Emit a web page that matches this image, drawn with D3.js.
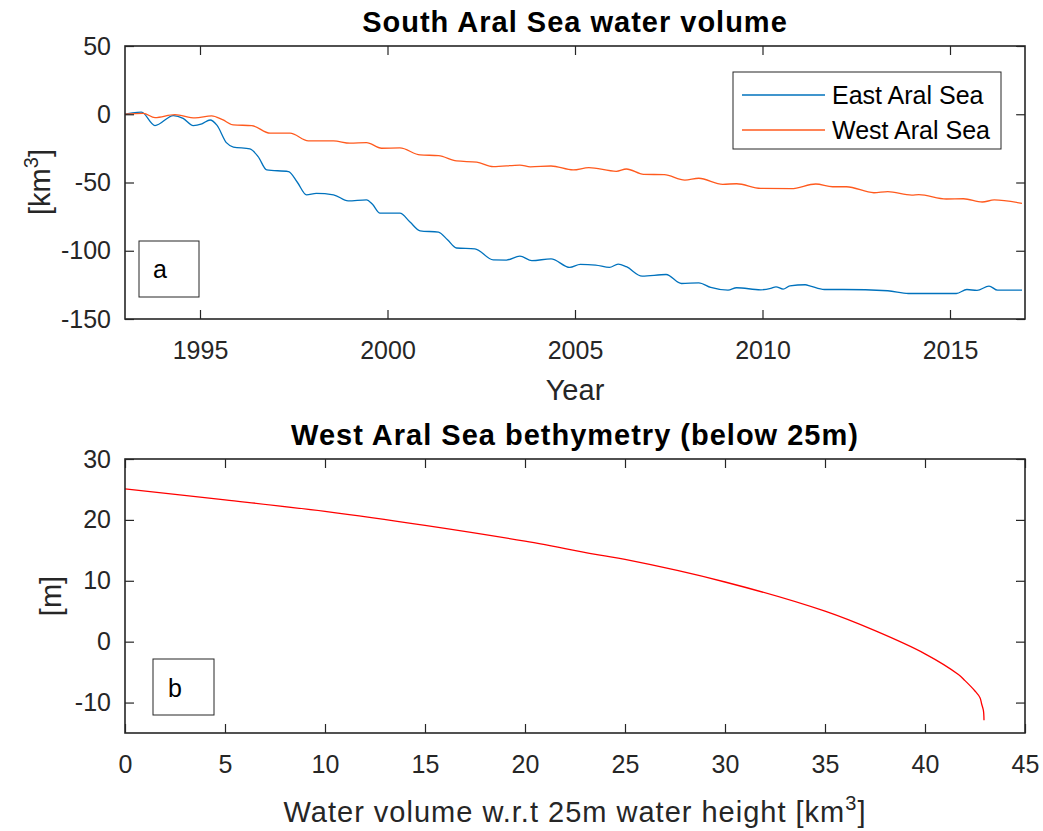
<!DOCTYPE html>
<html>
<head>
<meta charset="utf-8">
<script src="https://cdn.jsdelivr.net/npm/d3@7"></script>
<style>
  body { margin: 0; background: #fff; }
  text { font-family: "Liberation Sans", Arial, Helvetica, sans-serif; }
</style>
</head>
<body>
<script>
// panel a: water volume change [km3]
var eastYear = [1993.0,1993.2,1993.44,1993.8,1994.29,1994.55,1994.82,1995.05,1995.27,1995.45,1995.71,1995.89,
                1996.33,1996.55,1996.78,1997.36,1997.6,1997.84,1998.1,1998.56,1998.95,1999.44,1999.6,1999.8,
                2000.33,2000.6,2000.87,2001.36,2001.6,2001.84,2002.33,2002.82,2003.17,2003.53,2003.85,2004.36,
                2004.86,2005.14,2005.55,2005.92,2006.15,2006.37,2006.79,2007.43,2007.84,2008.3,2008.62,2009.08,
                2009.31,2009.95,2010.22,2010.36,2010.55,2010.73,2011.14,2011.28,2011.65,2012.15,2013.34,2013.89,
                2015.17,2015.45,2015.72,2016.04,2016.27,2016.92];
var eastVol  = [0,1,1.5,-8.3,-1,-3,-8.3,-7,-4.2,-8,-21,-24,
                -25.4,-31,-40.8,-42,-50,-59,-58,-59,-63.5,-62.7,-66,-72.5,
                -72.5,-79,-85.4,-86.4,-92,-98,-98.6,-106.7,-106.8,-103.9,-107.3,-105.9,
                -112.2,-110,-110.5,-112.2,-109.8,-111.7,-118.6,-117.4,-124,-123.5,-126.9,-128.9,
                -127.1,-128.6,-127.6,-126.4,-128.1,-125.7,-124.9,-125.9,-128.4,-128.4,-129.3,-131.3,
                -131.3,-128.4,-129.1,-125.9,-128.9,-128.9];

var westYear = [1993.0,1993.49,1993.8,1994.33,1994.87,1995.31,1995.6,1995.89,1996.38,1996.87,1997.4,1997.89,
                1998.56,1999.0,1999.44,1999.84,2000.33,2000.87,2001.36,2001.84,2002.38,2002.82,2003.53,2003.81,
                2004.36,2004.95,2005.37,2006.1,2006.37,2006.83,2007.38,2007.93,2008.3,2008.94,2009.31,2009.95,
                2010.77,2011.42,2011.87,2012.24,2012.97,2013.34,2013.98,2014.17,2014.9,2015.36,2015.86,2016.18,
                2016.92];
var westVol  = [0,0.7,-2.5,-0.3,-2.7,-1.2,-4,-7.8,-8.3,-13.9,-13.9,-19.5,
                -19.5,-21.2,-20.8,-24.9,-24.7,-29.8,-30.3,-34.2,-35.1,-38.4,-37.2,-38.6,
                -37.9,-40.8,-39.1,-41.8,-40.1,-44,-44.3,-48.2,-46.9,-51.3,-50.9,-54.3,
                -54.5,-51.1,-53.1,-53.1,-57.5,-56.7,-59.2,-58.9,-62.1,-61.9,-64.3,-62.8,
                -65.3];

var seriesNames = ["East Aral Sea", "West Aral Sea"];
var yearTicks = [1995, 2000, 2005, 2010, 2015];
var volTicks = [50, 0, -50, -100, -150];

// panel b: bathymetry
var bathyVolume = [0,5,10,15,20,23.75,25,30,35,37.5,40,41.67,42.0,42.5,42.75,42.83,42.92,42.95];
var bathyHeight = [25.1,23.3,21.4,19.1,16.5,14.2,13.5,9.8,5.0,1.8,-2.0,-5.4,-6.4,-8.1,-9.2,-10.2,-11.3,-12.9];
var bathyXTicks = [0,5,10,15,20,25,30,35,40,45];
var bathyYTicks = [30,20,10,0,-10];

var width = 1043, height = 831;
var axisColor = "#262626";
var tickLen = 9;
var fmt = function(d) { return String(d); };   // plain hyphen for negatives, like the original

var svg = d3.select("body").append("svg").attr("width", width).attr("height", height);

function styleAxis(g) {
  g.select(".domain").remove();
  g.selectAll(".tick line").attr("stroke", axisColor).attr("stroke-width", 1.2);
  g.selectAll(".tick text").attr("fill", axisColor).style("font-size", "25px");
}

function drawFrame(x, y, xTicks, yTicks) {
  var x0 = x.range()[0], x1 = x.range()[1], y0 = y.range()[0], y1 = y.range()[1];
  svg.append("g").attr("transform", "translate(0," + y0 + ")")
    .call(d3.axisBottom(x).tickValues(xTicks).tickSize(-tickLen).tickPadding(22).tickFormat(fmt))
    .call(styleAxis);
  svg.append("g").attr("transform", "translate(0," + y1 + ")")
    .call(d3.axisTop(x).tickValues(xTicks).tickSize(-tickLen).tickFormat(""))
    .call(styleAxis);
  svg.append("g").attr("transform", "translate(" + x0 + ",0)")
    .call(d3.axisLeft(y).tickValues(yTicks).tickSize(-tickLen).tickPadding(14).tickFormat(fmt))
    .call(styleAxis);
  svg.append("g").attr("transform", "translate(" + x1 + ",0)")
    .call(d3.axisRight(y).tickValues(yTicks).tickSize(-tickLen).tickFormat(""))
    .call(styleAxis);
  svg.append("rect")
    .attr("x", x0).attr("y", y1).attr("width", x1 - x0).attr("height", y0 - y1)
    .attr("fill", "none").attr("stroke", axisColor).attr("stroke-width", 1.6);
}

// ---------- panel a ----------
var xa = d3.scaleLinear().domain([1993, 2017]).range([125, 1025]);
var ya = d3.scaleLinear().domain([-150, 50]).range([319, 46]);

var lineA = d3.line()
  .x(function(d) { return xa(d[0]); })
  .y(function(d) { return ya(d[1]); })
  .curve(d3.curveMonotoneX);

var east = d3.zip(eastYear, eastVol);
var west = d3.zip(westYear, westVol);
var colors = ["#0072BD", "#FF5A1E"];

svg.append("path").attr("d", lineA(east)).attr("fill", "none")
  .attr("stroke", colors[0]).attr("stroke-width", 1.3);
svg.append("path").attr("d", lineA(west)).attr("fill", "none")
  .attr("stroke", colors[1]).attr("stroke-width", 1.3);

drawFrame(xa, ya, yearTicks, volTicks);

svg.append("text").attr("x", 575).attr("y", 32).attr("text-anchor", "middle")
  .style("font-size", "29px").style("font-weight", "bold").style("letter-spacing", "1px")
  .text("South Aral Sea water volume");
svg.append("text").attr("x", 575).attr("y", 400).attr("text-anchor", "middle")
  .attr("fill", axisColor).style("font-size", "29px").text("Year");

var ylabA = svg.append("text").attr("transform", "translate(50,182) rotate(-90)")
  .attr("text-anchor", "middle").attr("fill", axisColor).style("font-size", "29px");
ylabA.append("tspan").text("[km");
ylabA.append("tspan").attr("dy", -12).style("font-size", "20px").text("3");
ylabA.append("tspan").attr("dy", 12).text("]");

// legend
var leg = svg.append("g");
leg.append("rect").attr("x", 733).attr("y", 72).attr("width", 268).attr("height", 77)
  .attr("fill", "#fff").attr("stroke", axisColor).attr("stroke-width", 1);
seriesNames.forEach(function(name, i) {
  var yy = 95 + i * 35;
  leg.append("line").attr("x1", 742).attr("x2", 825).attr("y1", yy).attr("y2", yy)
    .attr("stroke", colors[i]).attr("stroke-width", 1.3);
  leg.append("text").attr("x", 832).attr("y", yy + 9).style("font-size", "25px").text(name);
});

// panel letter a
svg.append("rect").attr("x", 139).attr("y", 241).attr("width", 60).attr("height", 56)
  .attr("fill", "#fff").attr("stroke", axisColor).attr("stroke-width", 1);
svg.append("text").attr("x", 153).attr("y", 278).style("font-size", "25px").text("a");

// ---------- panel b ----------
var xb = d3.scaleLinear().domain([0, 45]).range([125, 1025]);
var yb = d3.scaleLinear().domain([-15, 30]).range([733, 459]);

var lineB = d3.line()
  .x(function(d) { return xb(d[0]); })
  .y(function(d) { return yb(d[1]); })
  .curve(d3.curveCatmullRom.alpha(0.5));

svg.append("path").attr("d", lineB(d3.zip(bathyVolume, bathyHeight))).attr("fill", "none")
  .attr("stroke", "#FF0000").attr("stroke-width", 1.3);

drawFrame(xb, yb, bathyXTicks, bathyYTicks);

svg.append("text").attr("x", 575).attr("y", 445).attr("text-anchor", "middle")
  .style("font-size", "29px").style("font-weight", "bold").style("letter-spacing", "1px")
  .text("West Aral Sea bethymetry (below 25m)");

var xlabB = svg.append("text").attr("x", 575).attr("y", 822).attr("text-anchor", "middle")
  .attr("fill", axisColor).style("font-size", "29px").style("letter-spacing", "1px");
xlabB.append("tspan").text("Water volume w.r.t 25m water height [km");
xlabB.append("tspan").attr("dy", -12).style("font-size", "20px").text("3");
xlabB.append("tspan").attr("dy", 12).text("]");

svg.append("text").attr("transform", "translate(61,596) rotate(-90)")
  .attr("text-anchor", "middle").attr("fill", axisColor).style("font-size", "29px").text("[m]");

svg.append("rect").attr("x", 153).attr("y", 659).attr("width", 61).attr("height", 56)
  .attr("fill", "#fff").attr("stroke", axisColor).attr("stroke-width", 1);
svg.append("text").attr("x", 168).attr("y", 697).style("font-size", "25px").text("b");
</script>
</body>
</html>
